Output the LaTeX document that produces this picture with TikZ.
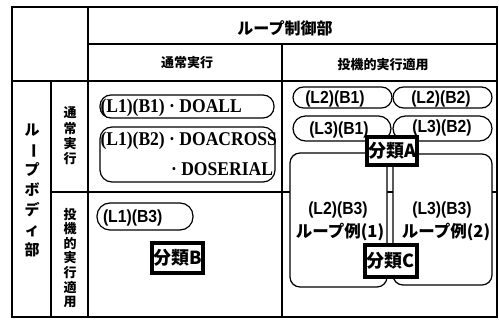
\documentclass[tikz,border=0pt]{standalone}
\usepackage{fontspec}
\setmainfont{Liberation Serif}
\newfontfamily\jp{Noto Sans CJK JP}
\newfontfamily\hv{Liberation Sans}[FakeStretch=0.9]
\newfontfamily\tm{Liberation Serif}[FakeStretch=0.9]
\newcommand{\vbar}{\rotatebox[origin=c]{-90}{ー}}
\begin{document}
\begin{tikzpicture}[x=1pt,y=-1pt,line width=1.2pt,
  pill/.style={draw,fill=white,rounded corners=11pt,inner sep=0pt},
  bigbox/.style={draw,fill=white,rounded corners=10pt,inner sep=0pt},
  cls/.style={draw,fill=white,line width=3.5pt,inner sep=0pt,font=\jp\bfseries\fontsize{18}{20}\selectfont},
  serift/.style={font=\tm\bfseries\fontsize{19.5}{30}\selectfont},
  sanst/.style={font=\hv\bfseries\fontsize{17.5}{19}\selectfont},
  jph/.style={font=\jp\bfseries\fontsize{13}{15}\selectfont}]
\useasboundingbox (0,0) rectangle (499,321);
% table frame
\draw[line width=1.4pt] (12,7) rectangle (497,317);
\draw (88,7) -- (88,317);
\draw (88,44) -- (497,44);
\draw (12,81) -- (497,81);
\draw (51,81) -- (51,317);
\draw (282,44) -- (282,317);
\draw (51,192) -- (497,192);
% headers
\node[font=\jp\bfseries\fontsize{16}{18}\selectfont] (h1) at (285,28) {ループ制御部};
\node[jph] (h2) at (187,63) {通常実行};
\node[jph] (h3) at (383,65) {投機的実行適用};
\node[font=\jp\bfseries\fontsize{15}{20}\selectfont,align=center] (v1) at (32,190) {ル\\\vbar\\プ\\ボ\\デ\\ィ\\部};
\node[font=\jp\bfseries\fontsize{13}{15.3}\selectfont,align=center] (v2) at (70,136) {通\\常\\実\\行};
\node[font=\jp\bfseries\fontsize{13}{14.6}\selectfont,align=center] (v3) at (70,258) {投\\機\\的\\実\\行\\適\\用};
% big boxes
\node[bigbox,minimum width=97pt,minimum height=134pt] (bl) at (338.5,220) {};
\node[bigbox,minimum width=99pt,minimum height=131pt] (br) at (442.5,219.5) {};
\node[sanst] (bl1) at (338,210) {(L2)(B3)};
\node[font=\jp\bfseries\fontsize{16.5}{18}\selectfont] (bl2) at (340,232) {ループ例(1)};
\node[sanst] (br1) at (442,210) {(L3)(B3)};
\node[font=\jp\bfseries\fontsize{16.5}{18}\selectfont] (br2) at (446,232) {ループ例(2)};
% left column pills
\node[pill,minimum width=174pt,minimum height=23pt] (p1) at (187,106.5) {};
\node[serift,anchor=west,inner sep=0pt] (p1t) at ([xshift=0.5pt,yshift=-1.5pt]p1.west) {(L1)(B1) · DOALL};
\node[pill,rounded corners=12pt,minimum width=175pt,minimum height=55pt] (p2) at (187.5,154.5) {};
\node[serift,anchor=west,inner sep=0pt] (p2t) at ([xshift=0.5pt,yshift=14pt]p2.west) {(L1)(B2) · DOACROSS};
\node[serift,anchor=east,inner sep=0pt] (p2u) at ([xshift=-2pt,yshift=-15pt]p2.east) {· DOSERIAL};
\node[pill,rounded corners=13pt,minimum width=96pt,minimum height=27pt] (p3) at (145,216.5) {};
\node[sanst,anchor=west,inner sep=0pt] (p3t) at ([xshift=6pt,yshift=-1.5pt]p3.west) {(L1)(B3)};
% right column pills
\node[pill,rounded corners=10.5pt,minimum width=99pt,minimum height=21pt] (q1) at (342.5,97.5) {};
\node[sanst] (q1t) at (335,99) {(L2)(B1)};
\node[pill,rounded corners=10.5pt,minimum width=99pt,minimum height=21pt] (q2) at (442.5,97.5) {};
\node[sanst] (q2t) at (441,99) {(L2)(B2)};
\node[pill,rounded corners=12.5pt,minimum width=98pt,minimum height=25pt] (q3) at (342,128.5) {};
\node[sanst] (q3t) at (339,130) {(L3)(B1)};
\node[pill,rounded corners=12.5pt,minimum width=99pt,minimum height=25pt] (q4) at (442.5,128.5) {};
\node[sanst] (q4t) at (442,128) {(L3)(B2)};
% classification labels
\node[cls,minimum width=50pt,minimum height=28pt] (ca) at (392,151) {分類A};
\node[cls,minimum width=51pt,minimum height=30pt] (cb) at (177.5,258) {分類B};
\node[cls,minimum width=52pt,minimum height=32pt] (cc) at (391,261) {分類C};
\end{tikzpicture}
\end{document}
